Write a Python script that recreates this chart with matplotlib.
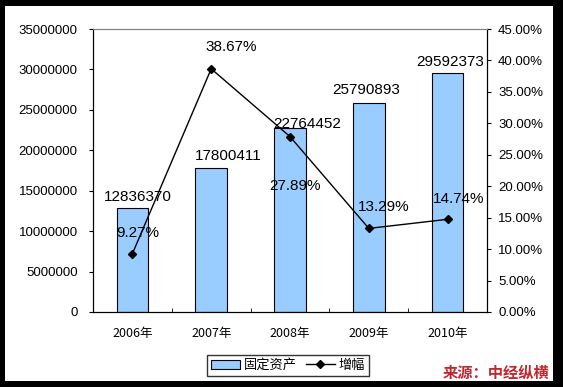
import matplotlib
matplotlib.use("Agg")
import matplotlib.pyplot as plt
from matplotlib.patches import Rectangle, Patch
from matplotlib.lines import Line2D
from matplotlib.ticker import FuncFormatter, MultipleLocator, FixedLocator

plt.rcParams['font.family'] = ['Liberation Sans', 'Noto Sans CJK SC', 'DejaVu Sans']

# data
years = ['2006年', '2007年', '2008年', '2009年', '2010年']
assets = [12836370, 17800411, 22764452, 25790893, 29592373]
growth = [9.27, 38.67, 27.89, 13.29, 14.74]

# label offsets in pixels (dx, dy) as in the original Excel layout
bar_off = [(5, 11), (17, 12), (17, 4), (-3, 13.5), (3, 11)]
line_off = [(5, 21), (20, 22), (5, -49), (15, 21), (11, 20)]

W, H = 563, 387
fig = plt.figure(figsize=(W / 100, H / 100), dpi=100)
fig.patch.set_facecolor('black')
fig.patches.append(Rectangle((5 / W, 6 / H), 548 / W, 375 / H, transform=fig.transFigure,
                             facecolor='white', edgecolor='none', zorder=-5))

ax = fig.add_axes([93 / W, 75 / H, 394 / W, 283 / H])
x = range(len(years))
ax.bar(x, assets, width=0.4, color='#99ccff', edgecolor='black', linewidth=0.8, zorder=2)
ax.set_xlim(-0.5, len(years) - 0.5)
ax.set_ylim(0, 35000000)
ax.yaxis.set_major_locator(MultipleLocator(5000000))
ax.yaxis.set_major_formatter(FuncFormatter(lambda v, p: f'{v:.0f}'))
ax.set_xticks(list(x))
ax.set_xticklabels(years, fontsize=9, family=['Noto Sans CJK SC', 'DejaVu Sans'])
ax.xaxis.set_minor_locator(FixedLocator([i + 0.5 for i in range(len(years) - 1)]))
ax.tick_params(axis='x', which='major', length=0, pad=11)
ax.tick_params(axis='x', which='minor', length=3, direction='in')
ax.tick_params(axis='y', length=3, direction='out', labelsize=9.5, pad=8)
ax.spines['top'].set_color('#808080')
for s in ['left', 'bottom', 'right']:
    ax.spines[s].set_color('black')

ax2 = ax.twinx()
ax2.plot(x, growth, color='black', linewidth=1, marker='D', markersize=4, zorder=3)
ax2.set_ylim(0, 45)
ax2.yaxis.set_major_locator(MultipleLocator(5))
ax2.yaxis.set_major_formatter(FuncFormatter(lambda v, p: f'{v:.2f}%'))
ax2.tick_params(axis='y', length=3, direction='out', labelsize=9.5, pad=5)
ax2.spines['top'].set_color('#808080')

for i, v in enumerate(assets):
    dx, dy = bar_off[i]
    ax.annotate(str(v), (i, v), xytext=(dx * 0.72, dy * 0.72), textcoords='offset points',
                ha='center', va='center', fontsize=11)
for i, v in enumerate(growth):
    dx, dy = line_off[i]
    ax2.annotate(f'{v:.2f}%', (i, v), xytext=(dx * 0.72, dy * 0.72), textcoords='offset points',
                 ha='center', va='center', fontsize=11)

handles = [Patch(facecolor='#99ccff', edgecolor='black', linewidth=0.8),
           Line2D([], [], color='black', linewidth=1, marker='D', markersize=4)]
leg = fig.legend(handles, ['固定资产', '增幅'], loc='center', bbox_to_anchor=(288 / W, 1 - 365.5 / H),
                 ncol=2, frameon=True, fancybox=False, handlelength=2.2,
                 handletextpad=0.3, columnspacing=0.7, borderpad=0.3, borderaxespad=0,
                 prop={'family': ['Noto Sans CJK SC', 'DejaVu Sans'], 'size': 9.5})
leg.get_frame().set_edgecolor('black')
leg.get_frame().set_linewidth(1)

fig.text(496 / W, 1 - 373 / H, '来源：中经纵横', ha='center', va='center', fontsize=11,
         fontweight='bold', color='#c0282f', family=['Noto Sans CJK SC', 'DejaVu Sans'])

fig.savefig('out.png', dpi=100, facecolor=fig.get_facecolor())
